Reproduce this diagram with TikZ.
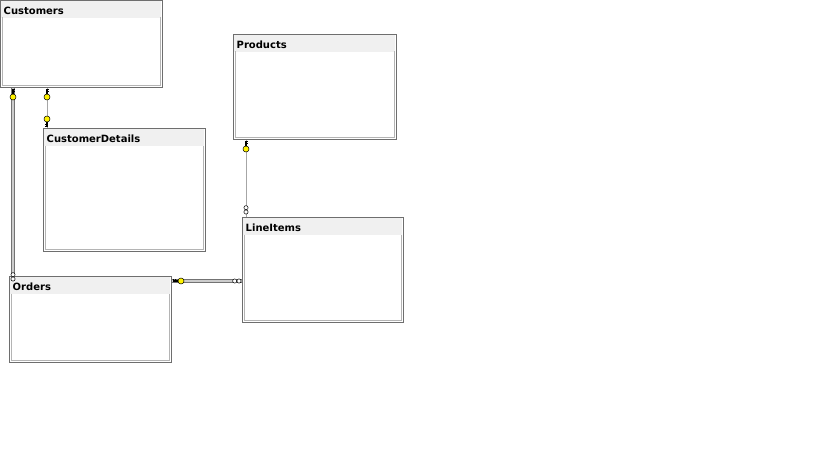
\documentclass[tikz,border=0pt]{standalone}
\usepackage{fontspec}
\setmainfont{DejaVu Sans}
\usetikzlibrary{positioning,calc}

\definecolor{hdrgray}{HTML}{F0F0F0}
\definecolor{framegray}{HTML}{6E6E6E}
\definecolor{innergray}{HTML}{B4B4B4}
\definecolor{keyyellow}{HTML}{FFF200}

\begin{document}
\begin{tikzpicture}[
  x=1pt, y=1pt,
  tbl/.style={draw=framegray, line width=1pt, fill=white, anchor=north west, inner sep=0pt},
  hdr/.style={fill=hdrgray, anchor=north west, inner xsep=3pt, inner ysep=1.5pt,
    text height=12pt, text depth=2pt, align=left, font=\bfseries\fontsize{10}{12}\selectfont},
  inframe/.style={draw=innergray, line width=0.7pt},
  relmain/.style={draw=gray!90!black, line width=1pt, double=gray!40, double distance=1.4pt},
  relthin/.style={draw=gray!70, line width=1pt},
  pics/keyend/.style={code={
    \draw[line width=1.1pt] (2.5,0) -- (8,0) (5.6,0) -- (5.6,-1.8) (7.6,0) -- (7.6,-1.8);
    \draw[fill=keyyellow, line width=0.5pt] (0,0) circle[radius=3];
  }},
  pics/manyend/.style={code={
    \draw[fill=white, line width=0.5pt] (0,0) circle[radius=2.1] (4.3,0) circle[radius=2.1];
  }}
]
\useasboundingbox (0,0) rectangle (819,-460);

% tables
\node[tbl, minimum width=162pt, minimum height=87pt] (cust) at (0,0) {};
\node[hdr, text width=154pt] at ([shift={(0.5,-0.5)}]cust.north west) {Customers};

\node[tbl, minimum width=163pt, minimum height=105pt] (prod) at (233,-34) {};
\node[hdr, text width=155pt] at ([shift={(0.5,-0.5)}]prod.north west) {Products};

\node[tbl, minimum width=162pt, minimum height=123pt] (custdet) at (43,-128) {};
\node[hdr, text width=154pt] at ([shift={(0.5,-0.5)}]custdet.north west) {CustomerDetails};

\node[tbl, minimum width=161pt, minimum height=105pt] (lineitems) at (242,-217) {};
\node[hdr, text width=153pt] at ([shift={(0.5,-0.5)}]lineitems.north west) {LineItems};

\node[tbl, minimum width=162pt, minimum height=86pt] (orders) at (9,-276) {};
\node[hdr, text width=154pt] at ([shift={(0.5,-0.5)}]orders.north west) {Orders};

\foreach \t in {cust,prod,custdet,lineitems,orders}
  \draw[inframe] ([shift={(2.5,-17.5)}]\t.north west) |- ([shift={(-2.5,2.5)}]\t.south east)
    -- ([shift={(-2.5,-17.5)}]\t.north east);

% relationships
\draw[relmain] ([xshift=13pt]cust.south west) -- ([xshift=4pt]orders.north west);
\draw[relthin] ([xshift=47pt]cust.south west) -- ([xshift=4pt]custdet.north west);
\draw[relthin] ([xshift=13pt]prod.south west) -- ([xshift=4pt]lineitems.north west);
\draw[relmain] ([yshift=-5pt]orders.north east) -- ([yshift=-64pt]lineitems.north west);

% ends
\pic[rotate=90] at ([shift={(13,-9)}]cust.south west) {keyend};
\pic[rotate=90] at ([shift={(4,-3)}]orders.north west) {manyend};
\pic[rotate=90] at ([shift={(47,-9)}]cust.south west) {keyend};
\pic[rotate=-90] at ([shift={(4,9)}]custdet.north west) {keyend};
\pic[rotate=90] at ([shift={(13,-9)}]prod.south west) {keyend};
\pic[rotate=90] at ([shift={(4,5)}]lineitems.north west) {manyend};
\pic[rotate=180] at ([shift={(9,-5)}]orders.north east) {keyend};
\pic[rotate=180] at ([shift={(-3,-64)}]lineitems.north west) {manyend};

\end{tikzpicture}
\end{document}
